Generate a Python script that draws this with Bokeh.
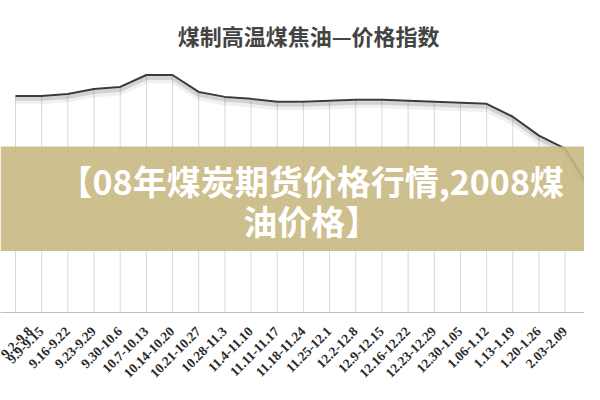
from math import pi

from bokeh.plotting import figure
from bokeh.models import (ColumnDataSource, Range1d, FixedTicker, BoxAnnotation,
                          Label, LinearAxis)
from bokeh.embed import file_html
from bokeh.resources import INLINE

# weekly periods (2008-09 .. 2009-02)
weeks = ["9.2-9.8", "9.9-9.15", "9.16-9.22", "9.23-9.29", "9.30-10.6",
         "10.7-10.13", "10.14-10.20", "10.21-10.27", "10.28-11.3", "11.4-11.10",
         "11.11-11.17", "11.18-11.24", "11.25-12.1", "12.2-12.8", "12.9-12.15",
         "12.16-12.22", "12.23-12.29", "12.30-1.05", "1.06-1.12", "1.13-1.19",
         "1.20-1.26", "2.03-2.09", "2.10-2.16", "2.17-2.23"]

# price index
index = [1090, 1090, 1100, 1125, 1135, 1195, 1195, 1110, 1085, 1075,
         1060, 1060, 1065, 1070, 1070, 1065, 1060, 1055, 1050, 985,
         890, 825, 610, 430]

title_text = "煤制高温煤焦油—价格指数"
banner_lines = ["【08年煤炭期货价格行情,2008煤", "油价格】"]

pos = list(range(len(weeks)))
source = ColumnDataSource(data=dict(x=pos, y=index, y0=[0] * len(pos)))

p = figure(width=584, height=384, output_backend="svg", toolbar_location=None,
           x_range=Range1d(-0.573, 21.74), y_range=Range1d(0, 1570),
           x_axis_location=None, y_axis_location=None,
           min_border_left=0, min_border_right=0, min_border_top=0,
           min_border_bottom=70)
p.outline_line_color = None
p.grid.visible = False
p.background_fill_color = "white"
p.border_fill_color = "white"

# drop lines from each point to the axis
p.segment(x0="x", y0="y0", x1="x", y1="y", source=source,
          line_color="#d9d9d9", line_width=1)

# soft shadow under the line (same data, shifted a few pixels down)
p.extra_y_ranges = {"shadow": Range1d(15, 1585), "shadow2": Range1d(25, 1595)}
p.line("x", "y", source=source, y_range_name="shadow2",
       line_color="black", line_alpha=0.06, line_width=7)
p.line("x", "y", source=source, y_range_name="shadow",
       line_color="black", line_alpha=0.12, line_width=4)
p.line("x", "y", source=source, line_color="#3a3a3a", line_width=2)

xaxis = LinearAxis(ticker=FixedTicker(ticks=pos),
                   major_label_overrides={i: w for i, w in zip(pos, weeks)})
xaxis.axis_line_color = "#bfbfbf"
xaxis.major_tick_line_color = None
xaxis.minor_tick_line_color = None
xaxis.major_label_orientation = pi / 4
xaxis.major_label_text_font = "Liberation Serif"
xaxis.major_label_text_font_style = "bold"
xaxis.major_label_text_font_size = "13.5px"
xaxis.major_label_text_color = "#2a2a2a"
xaxis.major_label_standoff = 11
p.add_layout(xaxis, "below")

p.add_layout(Label(x=11.2, y=1395, text=title_text, text_align="center",
                   text_baseline="middle", text_font="Noto Sans CJK SC",
                   text_font_style="bold", text_font_size="22px",
                   text_color="#444444"))

p.add_layout(BoxAnnotation(bottom=310, top=835, fill_color="#c9b882",
                           fill_alpha=0.9, line_color=None))

for txt, yv in zip(banner_lines, [665, 465]):
    p.add_layout(Label(x=11.3, y=yv, text=txt, text_align="center",
                       text_baseline="middle", text_font="Noto Sans CJK SC",
                       text_font_style="bold", text_font_size="34px",
                       text_color="white"))

open("out.html", "w").write(file_html(p, INLINE))
